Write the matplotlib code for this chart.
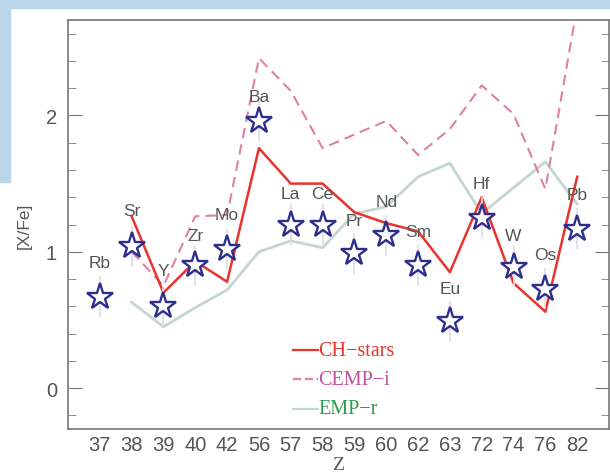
import numpy as np
import matplotlib.pyplot as plt
from matplotlib.patches import Rectangle

# atomic numbers on the x axis and element names
z_labels = ['37', '38', '39', '40', '42', '56', '57', '58', '59', '60',
            '62', '63', '72', '74', '76', '82']
elements = ['Rb', 'Sr', 'Y', 'Zr', 'Mo', 'Ba', 'La', 'Ce', 'Pr', 'Nd',
            'Sm', 'Eu', 'Hf', 'W', 'Os', 'Pb']

# observed [X/Fe] (stars)
star_vals = [0.67, 1.04, 0.60, 0.90, 1.02, 1.96, 1.20, 1.20, 0.99, 1.12,
             0.90, 0.49, 1.25, 0.89, 0.73, 1.17]
star_err = [0.15, 0.15, 0.15, 0.15, 0.15, 0.15, 0.15, 0.15, 0.15, 0.15,
            0.15, 0.15, 0.15, 0.15, 0.15, 0.15]

# comparison averages (start at Sr)
ch_stars = [1.26, 0.70, 0.93, 0.78, 1.76, 1.50, 1.50, 1.29, 1.21, 1.15,
            0.85, 1.40, 0.77, 0.56, 1.55]
cemp_i = [1.00, 0.75, 1.26, 1.27, 2.42, 2.18, 1.76, 1.86, 1.96, 1.71,
          1.90, 2.22, 2.01, 1.46, 2.80]
emp_r = [0.63, 0.45, 0.59, 0.72, 1.00, 1.08, 1.03, 1.28, 1.33, 1.55,
         1.65, 1.28, 1.47, 1.66, 1.35]

# where the element names sit
label_y = [0.92, 1.30, 0.86, 1.12, 1.27, 2.14, 1.43, 1.43, 1.23, 1.37,
           1.15, 0.73, 1.50, 1.12, 0.98, 1.42]

fig = plt.figure(figsize=(6.1, 4.77), dpi=100)

# light blue slide decoration
fig.patches.append(Rectangle((0, 1 - 9/477), 1, 9/477, transform=fig.transFigure,
                             color='#b9d6ea', zorder=0))
fig.patches.append(Rectangle((0, 1 - 183/477), 10/610, 183/477, transform=fig.transFigure,
                             color='#b9d6ea', zorder=0))

ax = fig.add_axes([68/610, 47/477, 541/610, 409/477])

x = np.arange(len(z_labels))
xs = x[1:]

ax.plot(xs, emp_r, color='#c5d6cf', lw=2, zorder=2)
ax.plot(xs, cemp_i, color='#e07fa8', lw=1.5, ls=(0, (5, 3)), zorder=2)
ax.plot(xs, ch_stars, color='#e8332e', lw=1.8, zorder=3)

ax.errorbar(x, star_vals, yerr=star_err, fmt='none', ecolor='#dcdde8', elinewidth=1.2, zorder=4)
ax.plot(x, star_vals, ls='none', marker='*', ms=20, mfc='white', mec='#2e2e8f', mew=1.7, zorder=5)

for xi, yi, name in zip(x, label_y, elements):
    ax.text(xi, yi, name, ha='center', va='center', fontsize=12.5, color='#555555',
            family='Liberation Sans', zorder=6)

ax.set_xlim(-1, 16)
ax.set_ylim(-0.3, 2.7)
ax.set_xticks(x)
ax.set_xticklabels(z_labels)
ax.set_yticks([0, 1, 2])
ax.set_yticks(np.arange(-0.2, 2.7, 0.2), minor=True)
ax.tick_params(axis='x', length=0, labelsize=14.5, labelcolor='#555555', pad=4)
ax.tick_params(axis='y', which='major', direction='in', length=10, right=True,
               labelsize=14.5, labelcolor='#555555', color='#777777', pad=8)
ax.tick_params(axis='y', which='minor', direction='in', length=6, right=True, color='#777777')
for lab in ax.get_xticklabels() + ax.get_yticklabels():
    lab.set_family('Liberation Sans')
for sp in ax.spines.values():
    sp.set_color('#777777')
    sp.set_linewidth(1.2)

ax.set_ylabel('[X/Fe]', fontsize=12.5, color='#555555', family='Liberation Sans', labelpad=10)
ax.set_xlabel('Z', fontsize=14, color='#555555', family='Liberation Serif', labelpad=2)

# legend drawn by hand with coloured text
leg_items = [('CH\u2212stars', '#e8332e', '-', '#e8332e'),
             ('CEMP\u2212i', '#e07fa8', '--', '#c04fa0'),
             ('EMP\u2212r', '#c5d6cf', '-', '#2e9a4e')]
leg_y = [0.193, 0.122, 0.049]
for (txt, lc, ls, tc), ly in zip(leg_items, leg_y):
    ax.plot([0.415, 0.462], [ly, ly], transform=ax.transAxes, color=lc, ls=ls, lw=1.6)
    ax.text(0.463, ly, txt, transform=ax.transAxes, color=tc, fontsize=14.5,
            family='Liberation Serif', va='center', ha='left')

fig.savefig('out.png', dpi=100)
